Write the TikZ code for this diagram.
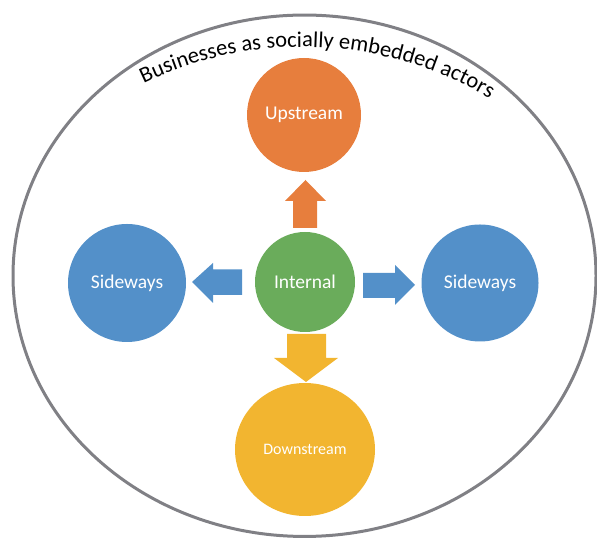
\documentclass[tikz,border=0pt]{standalone}
\usepackage{fontspec}
\setmainfont{Carlito}
\usetikzlibrary{shapes.geometric,decorations.text,calc}

\definecolor{blueC}{RGB}{83,144,201}
\definecolor{orangeC}{RGB}{231,126,61}
\definecolor{greenC}{RGB}{106,172,91}
\definecolor{goldC}{RGB}{242,181,48}
\definecolor{rimC}{RGB}{128,128,133}

\tikzset{
  actor/.style={circle, draw=none, text=white, inner sep=0pt,
    font=\fontsize{19.5}{23}\selectfont},
}

\begin{document}
\begin{tikzpicture}[x=1pt,y=1pt]
\useasboundingbox (0,0) rectangle (597,540);

% outer boundary
\draw[rimC, line width=3pt] (304.5,264.25) ellipse [x radius=291.5pt, y radius=260.7pt];

% curved title
\coordinate (tc) at (302.5,128);
\path[decorate, decoration={text along path, text align=center,
    text={|\fontsize{22.5}{26}\selectfont|Businesses as socially embedded actors}}]
  ($(tc)+(130:365pt)$) arc[start angle=130, end angle=45, radius=365pt];

% actor circles
\node[actor, fill=orangeC, minimum size=114pt] (up) at (304,425) {Upstream};
\node[actor, fill=greenC, minimum size=100pt] (int) at (305,258) {Internal};
\node[actor, fill=blueC, minimum size=118pt] (sl) at (127,257) {Sideways};
\node[actor, fill=blueC, minimum size=117pt] (sr) at (480,257) {Sideways};
\node[ellipse, fill=goldC, draw=none, text=white, inner sep=0pt,
  minimum width=140pt, minimum height=133pt,
  font=\fontsize{16}{19}\selectfont] (down) at (305,90.5) {Downstream};

% block arrows
\fill[orangeC] (293,312) -- (293,339) -- (285,339) -- (305.5,360)
  -- (326,339) -- (317,339) -- (317,312) -- cycle;
\fill[goldC] (287,206) -- (326,206) -- (326,182) -- (338,182)
  -- (306,158) -- (274,182) -- (287,182) -- cycle;
\fill[blueC] (242,270.5) -- (213,270.5) -- (213,277) -- (192,258)
  -- (213,237) -- (213,245) -- (242,245) -- cycle;
\fill[blueC] (363,267) -- (395,267) -- (395,275) -- (415,255)
  -- (395,235) -- (395,242) -- (363,242) -- cycle;
\end{tikzpicture}
\end{document}
